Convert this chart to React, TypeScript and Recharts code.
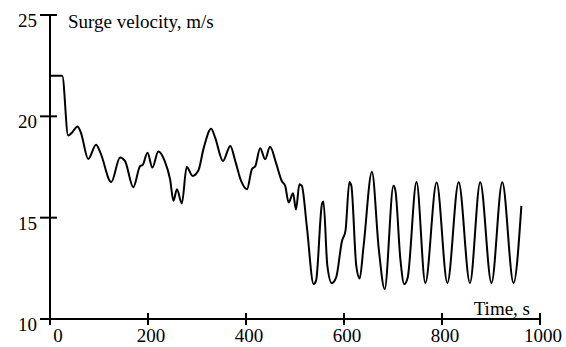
import React from 'react'
import { LineChart, Line, XAxis, YAxis, Label } from 'recharts'

// surge velocity trace (time in s, velocity in m/s)
const TIME = [
  0, 25, 37, 45, 56, 63, 78, 94, 103, 125, 143, 153, 170, 184, 189, 199, 209, 221, 234, 245,
  252, 259, 269, 279, 291, 303, 313, 329, 337, 353, 368, 378, 390, 402, 412, 419, 429, 439, 449, 462,
  473, 480, 487, 496, 502, 509, 514, 524, 538, 543, 555, 558, 566, 575, 584, 596, 603, 611, 615, 625,
  632, 640, 657, 671, 683, 701, 705, 715, 723, 730, 748, 766, 789, 811, 834, 857, 878, 901, 923, 946, 962,
]
const VELOCITY = [
  22, 22, 19.05, 19.2, 19.5, 19.2, 17.9, 18.6, 18.2, 16.76, 17.97, 17.8, 16.5, 17.55, 17.6, 18.2, 17.47, 18.26, 17.8, 16.9,
  15.83, 16.4, 15.7, 17.5, 17.06, 17.34, 18.37, 19.39, 18.95, 17.8, 18.54, 17.8, 16.81, 16.4, 17.39, 17.55, 18.42, 17.88, 18.5, 17.64,
  16.81, 16.57, 15.75, 16.2, 15.4, 16.65, 16.57, 14.6, 11.72, 11.89, 15.67, 15.8, 12.63, 11.77, 12.05, 13.86, 14.35, 16.76, 16.57, 12.63,
  12.0, 13.61, 17.26, 13.45, 11.48, 16.57, 16.32, 12.96, 11.72, 12.05, 16.76, 11.78, 16.73, 11.78, 16.75, 11.78, 16.75, 11.78, 16.75, 11.78, 15.58,
]
const X_TICKS = [0, 200, 400, 600, 800, 1000]
const Y_TICKS = [10, 15, 20, 25]

const data = TIME.map((t, i) => ({ t, v: VELOCITY[i] }))

const FONT = '"Liberation Serif", "Times New Roman", serif'
const INK = '#000'
const txt = { fontFamily: FONT, fontSize: 19 }

// ticks cross the axis line, labels sit a bit low/right like the original
const YTick = ({ x, y, payload }: any) => (
  <g>
    <line x1={x - 10} x2={x + 7} y1={y} y2={y} stroke={INK} strokeWidth={2} />
    <text x={x - 13} y={y + 12} textAnchor="end" style={txt} fill={INK}>
      {payload.value}
    </text>
  </g>
)

const XTick = ({ x, y, payload }: any) => (
  <g>
    <line x1={x} x2={x} y1={y - 6} y2={y + 6} stroke={INK} strokeWidth={2} />
    <text x={x + (payload.value === 0 ? 8 : 3)} y={y + 23} textAnchor="middle" style={txt} fill={INK}>
      {payload.value}
    </text>
  </g>
)

export default function App() {
  return (
    <div style={{ position: 'absolute', left: 0, top: 0, background: '#fff' }}>
      <LineChart width={566} height={347} data={data} margin={{ top: 15, right: 26, left: 0, bottom: 0 }}>
        <XAxis dataKey="t" type="number" domain={[0, 1000]} ticks={X_TICKS} height={28}
          axisLine={{ stroke: INK, strokeWidth: 2 }} tickLine={false} tickSize={0} tickMargin={0}
          tick={<XTick />} interval={0}>
          <Label content={({ viewBox }: any) => (
            <text x={viewBox.x + viewBox.width - 10} y={viewBox.y - 4} textAnchor="end"
              style={txt} fill={INK}>Time, s</text>
          )} />
        </XAxis>
        <YAxis type="number" domain={[10, 25]} ticks={Y_TICKS} width={50}
          axisLine={{ stroke: INK, strokeWidth: 2 }} tickLine={false} tickSize={0} tickMargin={0}
          tick={<YTick />} interval={0}>
          <Label content={({ viewBox }: any) => (
            <text x={viewBox.x + viewBox.width + 18} y={viewBox.y + 13}
              style={txt} fill={INK}>Surge velocity, m/s</text>
          )} />
        </YAxis>
        <Line dataKey="v" type="monotone" stroke={INK} strokeWidth={2} dot={false} isAnimationActive={false} />
      </LineChart>
    </div>
  )
}
